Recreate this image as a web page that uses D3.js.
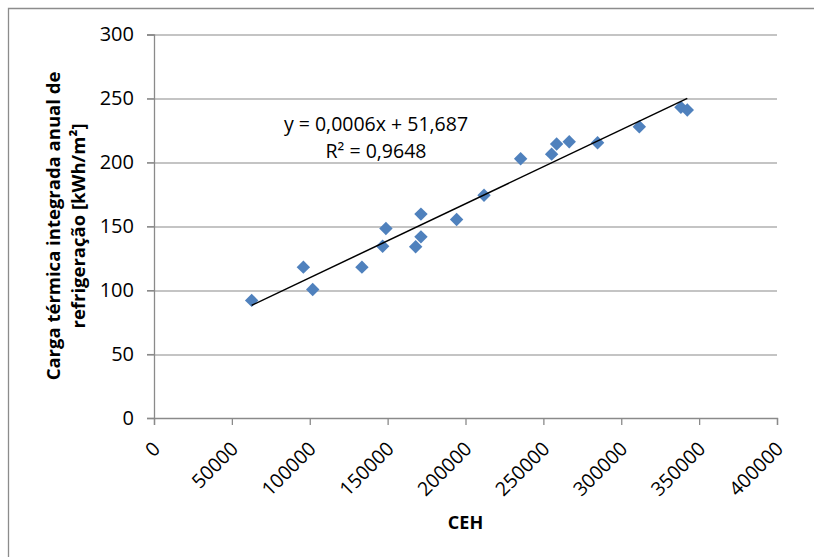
<!DOCTYPE html>
<html>
<head>
<meta charset="utf-8">
<script src="https://cdn.jsdelivr.net/npm/d3@7"></script>
<style>
  body { margin: 0; background: #fff; }
  text { font-family: "Open Sans", "Liberation Sans", sans-serif; fill: #000; }
</style>
</head>
<body>
<div id="chart"></div>
<script>
// CEH values and integrated annual cooling load [kWh/m2]
var ceh  = [62700, 95900, 101900, 133500, 146800, 148900, 168000, 171400, 171400, 194300,
            211900, 235400, 255300, 258500, 266600, 284800, 311600, 338300, 342400];
var carga = [92, 118, 100.5, 118, 134.4, 148.3, 133.9, 141.7, 159.5, 155.3,
             174.3, 202.8, 206.4, 214.3, 216.1, 215.3, 227.8, 243, 240.9];
var xTicks = [0, 50000, 100000, 150000, 200000, 250000, 300000, 350000, 400000];
var yTicks = [0, 50, 100, 150, 200, 250, 300];
var eqLines = ["y = 0,0006x + 51,687", "R² = 0,9648"];

var W = 814, H = 557;
var margins = { top: 34.5, left: 154, right: 37, bottom: 139 };
var width = W - margins.left - margins.right;
var height = H - margins.top - margins.bottom;

var svg = d3.select('#chart').append('svg')
    .attr('width', W)
    .attr('height', H);

// chart area border (only top and left are in view)
svg.append('path')
    .attr('d', 'M8.5,' + (H + 5) + 'V8.5H' + (W + 5))
    .attr('fill', 'none')
    .attr('stroke', '#8c8c8c')
    .attr('stroke-width', 1.3);

var xScale = d3.scaleLinear().domain([0, 400000]).range([0, width]);
var yScale = d3.scaleLinear().domain([0, 300]).range([height, 0]);

var g = svg.append('g')
    .attr('transform', 'translate(' + margins.left + ',' + margins.top + ')');

// horizontal gridlines
g.selectAll('line.grid')
    .data(yTicks.filter(function(d){ return d > 0; }))
    .enter().append('line')
    .attr('class', 'grid')
    .attr('x1', -7).attr('x2', width)
    .attr('y1', function(d){ return Math.round(yScale(d)) + 0.5; })
    .attr('y2', function(d){ return Math.round(yScale(d)) + 0.5; })
    .attr('stroke', '#8a8a8a')
    .attr('stroke-width', 1.2);

// y axis
var yAxis = d3.axisLeft(yScale).tickValues(yTicks).tickSize(7).tickPadding(13);
var yGuide = g.append('g').call(yAxis);
yGuide.select('.domain').attr('stroke', '#8a8a8a').attr('stroke-width', 1.3);
yGuide.selectAll('.tick line').attr('stroke', '#8a8a8a').attr('stroke-width', 1.3);
yGuide.selectAll('.tick text')
    .style('font-size', '20px')
    .style('font-family', '"Open Sans", sans-serif')
    .attr('fill', '#000');

// x axis
var xAxis = d3.axisBottom(xScale).tickValues(xTicks).tickSize(7).tickFormat(d3.format('d'));
var xGuide = g.append('g')
    .attr('transform', 'translate(0,' + height + ')')
    .call(xAxis);
xGuide.select('.domain').attr('stroke', '#8a8a8a').attr('stroke-width', 1.3);
xGuide.selectAll('.tick line').attr('stroke', '#8a8a8a').attr('stroke-width', 1.3);
xGuide.selectAll('.tick text')
    .style('font-size', '19.5px')
    .style('font-family', '"Open Sans", sans-serif')
    .attr('fill', '#000')
    .attr('text-anchor', 'end')
    .attr('dy', null)
    .attr('y', 0)
    .attr('transform', 'translate(7,32) rotate(-45)');

// least squares trendline over the data range
var n = ceh.length;
var mx = d3.mean(ceh), my = d3.mean(carga);
var sxy = 0, sxx = 0;
for (var i = 0; i < n; i++) {
    sxy += (ceh[i] - mx) * (carga[i] - my);
    sxx += (ceh[i] - mx) * (ceh[i] - mx);
}
var slope = sxy / sxx, icpt = my - slope * mx;
var x0 = d3.min(ceh), x1 = d3.max(ceh);

// points
var pts = ceh.map(function(d, i){ return { x: d, y: carga[i] }; });
g.selectAll('path.pt')
    .data(pts)
    .enter().append('path')
    .attr('class', 'pt')
    .attr('d', d3.symbol().type(d3.symbolDiamond2).size(115))
    .attr('transform', function(d){
        return 'translate(' + xScale(d.x) + ',' + yScale(d.y) + ')';
    })
    .attr('fill', '#4f81bd');

g.append('line')
    .attr('x1', xScale(x0)).attr('y1', yScale(slope * x0 + icpt))
    .attr('x2', xScale(x1)).attr('y2', yScale(slope * x1 + icpt))
    .attr('stroke', '#000')
    .attr('stroke-width', 1.5);

// equation label
svg.selectAll('text.eq')
    .data(eqLines)
    .enter().append('text')
    .attr('class', 'eq')
    .attr('x', 376)
    .attr('y', function(d, i){ return 131 + i * 27; })
    .attr('text-anchor', 'middle')
    .style('font-size', '19.5px')
    .text(function(d){ return d; });

// axis titles
svg.append('text')
    .attr('x', margins.left + width / 2)
    .attr('y', 529)
    .attr('text-anchor', 'middle')
    .style('font-size', '18px')
    .style('font-weight', 'bold')
    .text('CEH');

var yTitle = svg.append('text')
    .attr('transform', 'translate(60,226) rotate(-90)')
    .attr('text-anchor', 'middle')
    .style('font-size', '18.5px')
    .style('font-weight', 'bold');
yTitle.append('tspan').attr('x', 0).attr('y', 0).text('Carga térmica integrada anual de');
yTitle.append('tspan').attr('x', 0).attr('y', 25).text('refrigeração [kWh/m²]');
</script>
</body>
</html>
